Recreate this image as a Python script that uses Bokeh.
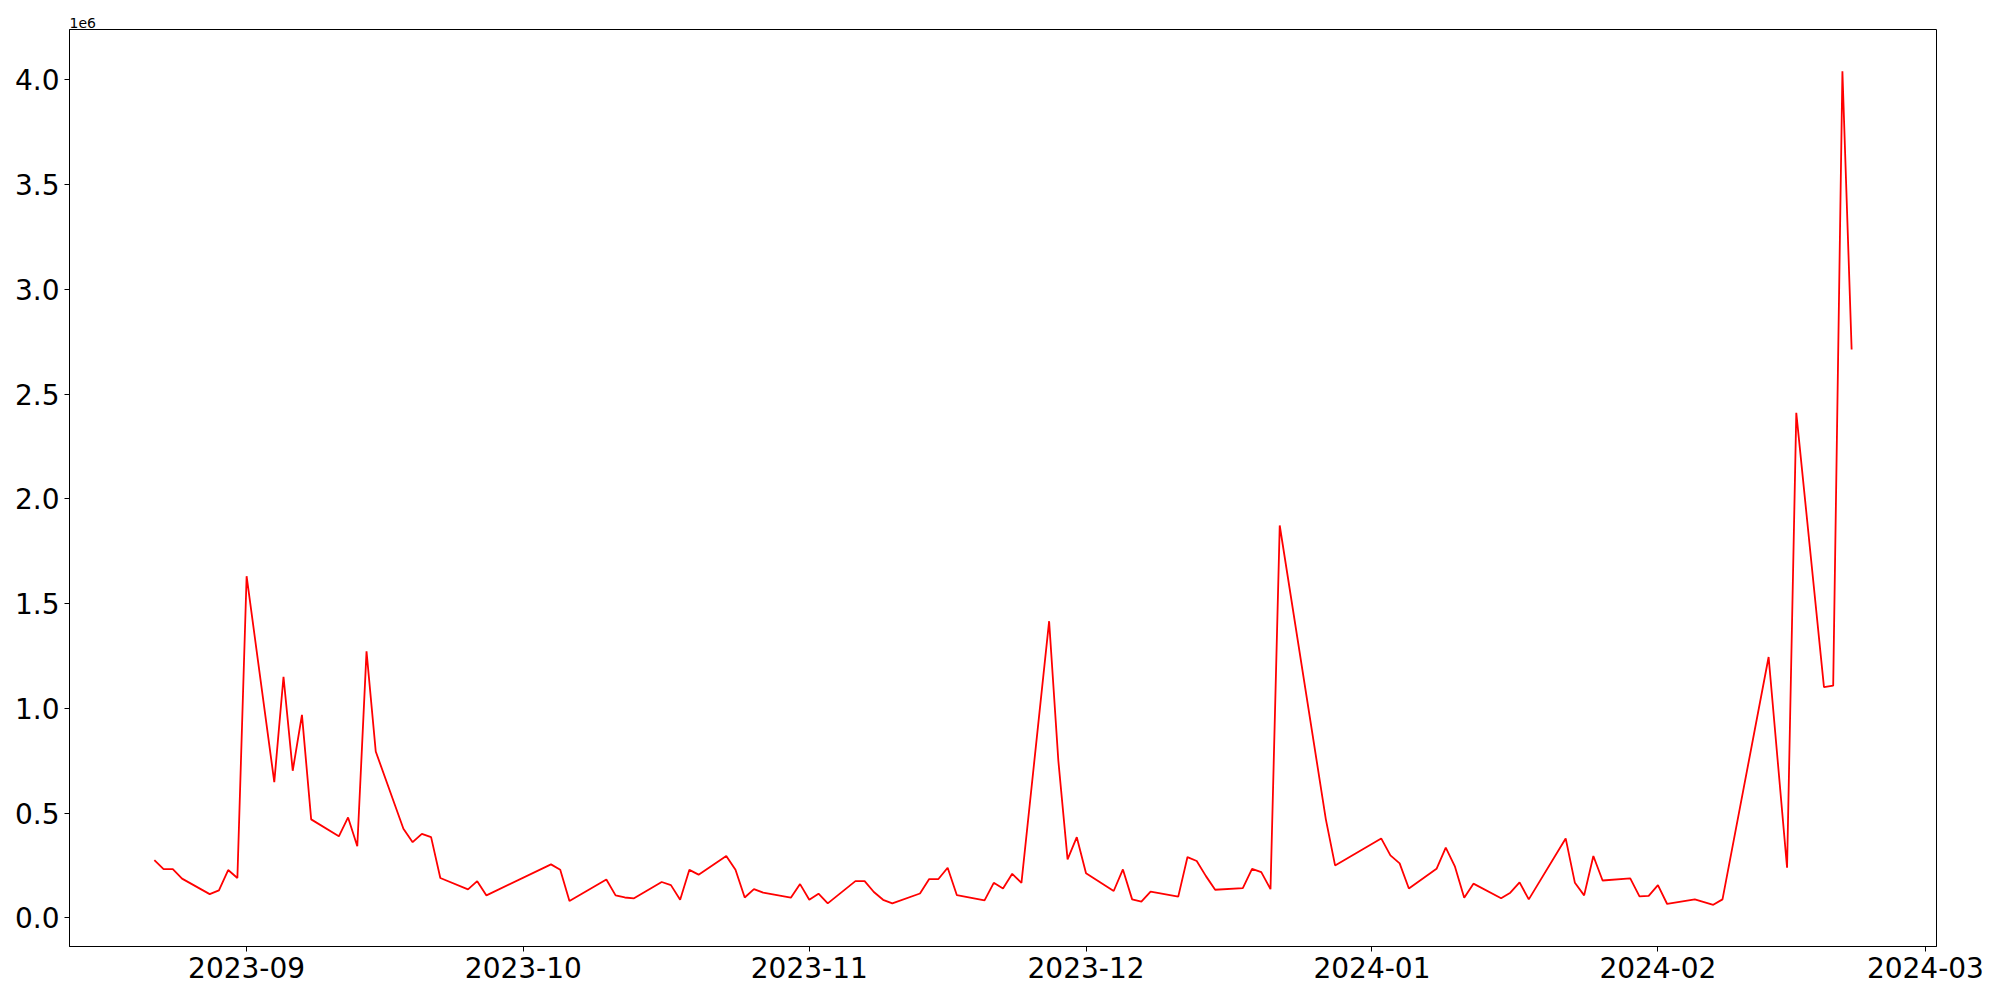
import pandas as pd
from bokeh.plotting import figure
from bokeh.models import FixedTicker, Title, Range1d
from bokeh.embed import file_html
from bokeh.resources import INLINE

dates = [
    "2023-08-22", "2023-08-23", "2023-08-24", "2023-08-25", "2023-08-28", "2023-08-29",
    "2023-08-30", "2023-08-31", "2023-09-01", "2023-09-04", "2023-09-05", "2023-09-06",
    "2023-09-07", "2023-09-08", "2023-09-11", "2023-09-12", "2023-09-13", "2023-09-14",
    "2023-09-15", "2023-09-18", "2023-09-19", "2023-09-20", "2023-09-21", "2023-09-22",
    "2023-09-25", "2023-09-26", "2023-09-27", "2023-10-04", "2023-10-05", "2023-10-06",
    "2023-10-10", "2023-10-11", "2023-10-12", "2023-10-13", "2023-10-16", "2023-10-17",
    "2023-10-18", "2023-10-19", "2023-10-20", "2023-10-23", "2023-10-24", "2023-10-25",
    "2023-10-26", "2023-10-27", "2023-10-30", "2023-10-31", "2023-11-01", "2023-11-02",
    "2023-11-03", "2023-11-06", "2023-11-07", "2023-11-08", "2023-11-09", "2023-11-10",
    "2023-11-13", "2023-11-14", "2023-11-15", "2023-11-16", "2023-11-17", "2023-11-20",
    "2023-11-21", "2023-11-22", "2023-11-23", "2023-11-24", "2023-11-27", "2023-11-28",
    "2023-11-29", "2023-11-30", "2023-12-01", "2023-12-04", "2023-12-05", "2023-12-06",
    "2023-12-07", "2023-12-08", "2023-12-11", "2023-12-12", "2023-12-13", "2023-12-14",
    "2023-12-15", "2023-12-18", "2023-12-19", "2023-12-20", "2023-12-21", "2023-12-22",
    "2023-12-27", "2023-12-28", "2024-01-02", "2024-01-03", "2024-01-04", "2024-01-05",
    "2024-01-08", "2024-01-09", "2024-01-10", "2024-01-11", "2024-01-12", "2024-01-15",
    "2024-01-16", "2024-01-17", "2024-01-18", "2024-01-22", "2024-01-23", "2024-01-24",
    "2024-01-25", "2024-01-26", "2024-01-29", "2024-01-30", "2024-01-31", "2024-02-01",
    "2024-02-02", "2024-02-05", "2024-02-07", "2024-02-08", "2024-02-13", "2024-02-15",
    "2024-02-16", "2024-02-19", "2024-02-20", "2024-02-21", "2024-02-22",
]

values = [
    275000, 232000, 232000, 187000, 113000, 131000,
    228000, 190000, 1631000, 648000, 1151000, 702000,
    969000, 470000, 389000, 479000, 342000, 1272000,
    794000, 425000, 361000, 401000, 385000, 190000,
    136000, 175000, 107000, 255000, 229000, 80000,
    183000, 107000, 97000, 93000, 171000, 156000,
    86000, 229000, 206000, 295000, 229000, 97000,
    137000, 120000, 96000, 161000, 86000, 115000,
    69000, 175000, 175000, 123000, 86000, 69000,
    116000, 185000, 185000, 239000, 108000, 83000,
    167000, 140000, 210000, 167000, 1416000, 750000,
    279000, 385000, 213000, 128000, 231000, 88000,
    77000, 125000, 101000, 290000, 271000, 199000,
    134000, 142000, 234000, 218000, 137000, 1873000,
    470000, 250000, 379000, 298000, 260000, 140000,
    234000, 335000, 244000, 96000, 163000, 93000,
    120000, 169000, 88000, 379000, 167000, 107000,
    295000, 178000, 188000, 102000, 105000, 156000,
    66000, 88000, 62000, 88000, 1245000, 239000,
    2411000, 1101000, 1108000, 4042000, 2713000,
]

x_tick_dates = ["2023-09-01", "2023-10-01", "2023-11-01", "2023-12-01",
                "2024-01-01", "2024-02-01", "2024-03-01"]
x_tick_labels = ["2023-09", "2023-10", "2023-11", "2023-12", "2024-01", "2024-02", "2024-03"]

y_ticks = [0, 500000, 1000000, 1500000, 2000000, 2500000, 3000000, 3500000, 4000000]
y_tick_labels = ["0.0", "0.5", "1.0", "1.5", "2.0", "2.5", "3.0", "3.5", "4.0"]

FONT = "DejaVu Sans"

x = pd.to_datetime(dates)
x_ms = [(d - pd.Timestamp("1970-01-01")).total_seconds() * 1000 for d in x]
xmin, xmax = min(x_ms), max(x_ms)
xspan = xmax - xmin
ymin, ymax = min(values), max(values)
yspan = ymax - ymin

p = figure(width=1990, height=984, x_axis_type="datetime",
           output_backend="svg", toolbar_location=None,
           min_border_left=69, min_border_right=54, min_border_top=29,
           min_border_bottom=38)
p.x_range = Range1d(xmin - 0.05 * xspan, xmax + 0.05 * xspan)
p.y_range = Range1d(ymin - 0.05 * yspan, ymax + 0.05 * yspan)

p.line(x_ms, values, line_color="#ff0000", line_width=1.8)

xt = [(pd.Timestamp(d) - pd.Timestamp("1970-01-01")).total_seconds() * 1000 for d in x_tick_dates]
p.xaxis.ticker = FixedTicker(ticks=xt)
p.xaxis.major_label_overrides = {t: l for t, l in zip(xt, x_tick_labels)}
p.yaxis.ticker = FixedTicker(ticks=y_ticks)
p.yaxis.major_label_overrides = {t: l for t, l in zip(y_ticks, y_tick_labels)}

for ax in (p.xaxis[0], p.yaxis[0]):
    ax.major_label_text_font = FONT
    ax.major_label_text_font_size = "28px"
    ax.major_label_text_color = "black"
    ax.major_tick_out = 5
    ax.major_tick_in = 0
    ax.minor_tick_out = 0
    ax.minor_tick_in = 0
    ax.major_tick_line_color = "black"
    ax.axis_line_color = "black"
    ax.major_label_standoff = 5

p.xgrid.visible = False
p.ygrid.visible = False
p.outline_line_color = "black"
p.outline_line_alpha = 1
p.outline_line_width = 1
p.background_fill_color = "white"
p.border_fill_color = "white"

t = Title(text="1e6", align="left", text_font=FONT, text_font_size="14px",
          text_font_style="normal", text_color="black", offset=0, standoff=3)
p.add_layout(t, "above")

open("out.html", "w").write(file_html(p, INLINE))
